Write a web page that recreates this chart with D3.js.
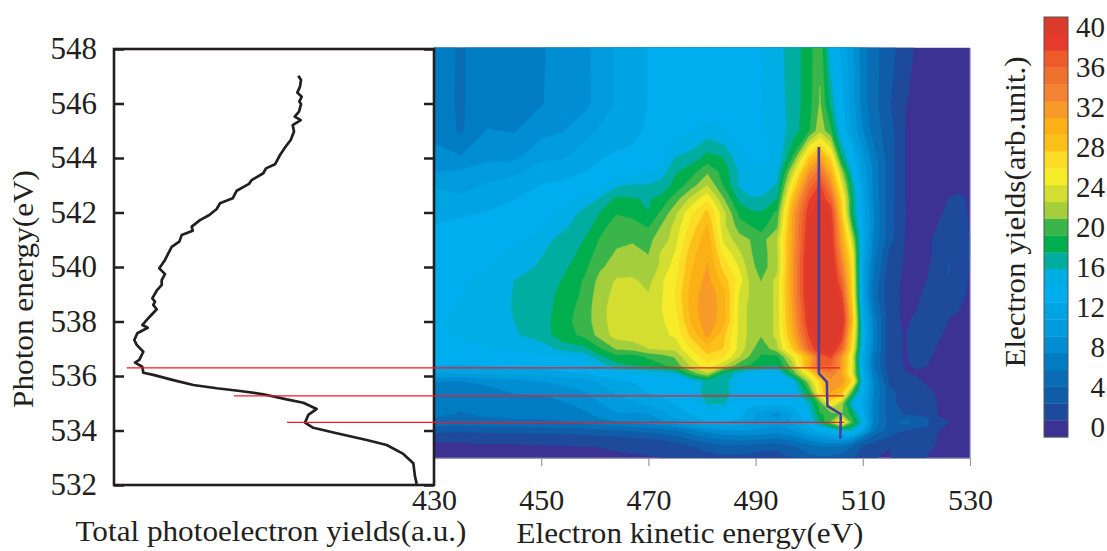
<!DOCTYPE html>
<html><head><meta charset="utf-8">
<script src="https://cdn.jsdelivr.net/npm/d3@7"></script>
<style>html,body{margin:0;padding:0;background:#fff}svg{display:block}text{font-family:"Liberation Serif",serif;fill:#231f20}</style>
</head><body><svg id="c" width="1107" height="551"></svg>
<script>
const photonTicks=[532,534,536,538,540,542,544,546,548];
const kineticTicks=[430,450,470,490,510,530];
const colorbarTicks=[0,4,8,12,16,20,24,28,32,36,40];
const bandColors=["#3b3293","#1e4a9c","#0f5ca8","#0a6cb4","#007cc2","#008dd2","#009bdc","#00a4e2","#00aeef","#00aee6","#00ada0","#00ae4d","#39b54a","#a4ce3c","#d4de30","#f7ec29","#fcdc26","#fdc01b","#fbb016","#f79a28","#f58233","#f0702d","#ee5a2a","#e63a2e","#dc3a2a"];
const bandLevels=[-1,0.68,2.36,4.04,5.72,7.4,9.08,10.76,12.44,14.12,15.8,17.48,19.16,20.84,22.52,24.2,25.88,27.56,29.24,30.92,32.6,34.28,35.96,37.64,39.32];
const gridKinetic=[430,435,440,445,450,454,458,461,464,467,470,472.5,475,478,481,484,487,489,491,494,497,500,502,504,506,508,510,512,515,518,520,522,524,526,528,530];
const gridPhoton=[548.04,546,545,544,543.5,543,542.5,542,541.5,541,540.5,540,539.5,539,538.5,538,537.5,537,536.7,536.4,536.1,535.8,535.4,535,534.6,534.3,534,533.7,533.4,533];
const gridYield=[
[6.2,5.6,6.3,6.6,7.3,7.8,8.6,9.8,11,11.4,12.5,12.7,12.8,13,13,13.2,13.2,13.5,14,15.3,16.5,18.5,20.5,14.5,12,9.5,6.5,4.5,3.2,1,.6,.3,.3,.2,.2,.2],
[6.1,5.6,6.3,6.7,7.3,8,8.6,9.7,11,11.3,12.5,12.7,12.9,13,13,13.2,13.2,13.5,14,15,16.5,18.5,21,17,13,10,6.5,4.7,2.5,.7,.5,.3,.3,.2,.2,.2],
[6.9,5.5,7.5,7.3,8.5,9,10,11,12,12,12.7,13,13.5,14,14.8,14.2,13.5,13.4,13.8,14.8,16.5,19,22,19.5,14,10.5,7.5,5,3,.6,.5,.3,.3,.2,.2,.2],
[8,7.6,8.8,8.7,10.5,10.6,11.8,12.4,12.6,12.8,13,13.8,15.9,16.5,18.2,17.5,14.5,14,14,14.2,19.5,28,31,27,18,13.5,9.5,6.5,3,.6,.5,.3,.3,.2,.2,.2],
[9,9.3,9.8,10.4,11.5,11.8,12.4,12.7,13,13.5,14,15,17.3,18.5,20.5,18.5,15.5,14.5,14.2,15,23,32,35,30,22,15,10,7,3,.6,.5,.3,.3,.2,.2,.2],
[10.5,10,11,11.6,12.5,12.8,13,13.3,15.5,15.9,15.9,16.5,18,20,22.5,19,15.5,14.7,14.5,16,26,35,38,33,24.5,17,11,7,3,.6,.5,.3,.3,.2,.4,.2],
[11.5,11.2,12,12.4,12.8,13.2,14.6,16,17.8,17.6,17.3,18,20,23,25.5,21,17,16,16,17.5,29,37.5,39.5,36,27,18,11.5,7,3,.6,.5,.4,.4,.7,.9,.5],
[12,12.2,12.5,12.7,13,14.5,16.3,17.5,19,18.6,17.5,19.5,22,25.5,28,23,18.5,17.8,17.5,19.5,31,39,40,39,28,18,12,7.5,3,.7,.5,.4,.5,.9,.9,.6],
[12.5,12.8,13,13.2,14,15.5,16.5,18.5,20,19.8,19,21,23,26.5,29.5,23,20,19.2,18.5,20.5,31.5,39.5,40.5,39.5,30,20,12.2,7.5,3,.6,.5,.4,.7,1.2,1,.6],
[13,13.1,13.2,13.6,15.3,16.2,17.5,19.3,20.5,20.7,20.5,21.5,23.5,27.5,30.5,23.8,21.5,20.8,20,22.5,31.5,40,41,40,31,23,12.5,7,3,.5,.5,.5,.9,1.3,1,.7],
[13.1,13.3,13.6,14.6,15.7,16.6,18,20,21,21.2,20.8,22.8,24.3,28.5,30.8,25.5,22.8,21,20,22,32,40.5,41.5,40.5,32.5,25,12,6.5,2,.5,.4,.5,.9,2,1.5,.7],
[13.2,13.6,14,15.2,16,17,18.7,20.6,21.5,21.7,21,23,25,29,31,27,24,21.5,20,22,32,41,42,41,34,26,11,6,1.5,.5,.4,.5,1.2,2.5,1.6,.6],
[13.4,14,14.5,15.8,16.3,17.6,19.3,21.4,22.7,22.8,22,24,25.5,29.5,31.5,28.5,25,22,20.8,23,32,41,42,41.5,36,26.5,11,5.5,1,.5,.4,.7,1.5,2.3,1,.6],
[13.5,14,14.8,15.9,16.5,18,19.5,21.8,23,23,22.6,24,26,30,32,30,23.8,22.3,21,23,32,41,42,42,38,27,11,5,1,.5,.5,.9,2,2,.8,.6],
[13.8,14.2,15,15.9,16.6,18.3,19.8,22,23.3,23.4,23,24.2,25.5,30,32.2,30,23.5,22,21,23,31.5,40,42,42,40,28,12,6,1,.5,.6,1.5,2,1,.7,.5],
[14,14.4,15,15.8,16.7,18.5,20,21.8,23.5,23.4,23,24,25,29.5,32,30,23.5,22,21,23,31,39.5,42,42,41,29,13,7,1,.5,1,2,1.6,.6,.6,.5],
[14,14.2,15,15.6,16.5,18.5,19.5,21.5,23.2,23.4,23,23.8,24.5,28,31.5,28,23.5,22,21,23,30,38,41,41,39,27,14,7,1,.6,1.5,1.5,.8,.5,.5,.4],
[13.5,13.7,14,14.6,15,16.3,17,19,21,21.5,22.5,22.8,23,26,28.5,27.5,23.5,21.5,19.5,22,28,36,40,40.5,36,26,13,7,1,.6,1.2,1,.6,.5,.5,.4],
[13,13,13,13.2,13.5,14,14.5,17,18.5,18,19.5,20,21,24.5,27,26,22.5,20.5,19,18.5,24,30,36,38,32,24,12,6,1,.6,1,.8,.5,.5,.5,.4],
[12.5,12.4,12.5,12.8,13,13.5,14,14.8,17,17.6,18,19,20,23,25.5,23,20,19,18,17.5,22,31,36.5,36,32,24.5,12,6,1,.6,.8,.7,.5,.5,.5,.4],
[10.5,10.8,11,11.2,11.5,12,12.5,13.2,14,14.2,14.5,14.8,15.5,20,22.5,17.5,15,14,13.5,13.8,20,26,32,34,31,24,13,6.5,1.5,.7,.6,.5,.5,.4,.4,.4],
[7.5,7.3,8,8.3,9,9.5,10,11,12,12.5,13,13,13,14,16.5,16.5,14,13.3,13,13,14.5,22,27,32,32,27,14,7.5,2,1,.8,.6,.5,.4,.4,.4],
[6.2,6,6.5,7.6,7.6,8.5,9,10,11,11.5,12.5,12.7,13,14,17,17,14,13.3,13,13,13.5,19,26,31,29,20,13,7.5,3,1.2,1,.8,.6,.4,.4,.4],
[6.3,6.1,6.3,6.5,6.6,7.2,8,9,10,10.5,11.5,12,12.5,13.5,16,16,13.5,13,13,13,13.2,16,20,26,22,15,12,7,3,1.5,1.6,1.5,.6,.5,.4,.4],
[6,5.6,6,6.3,6.2,6.4,7,8,9,8.8,9,10,12,12.5,13,13,13,11.5,10,8.5,11,14.5,19,19.5,21,18.5,13,7,3,2.2,2.2,2,.6,.5,.4,.4],
[5.2,5,5.2,5.3,5.4,5.6,6,6.7,7.2,7.8,8,8.8,9.5,11,12.5,12.5,12,11,10,9.5,11,13.5,17.5,21,27,20,15,7,3.5,4.7,3.3,2.8,1,.7,.5,.4],
[2.8,2.7,2.9,3,3.1,3.2,3.4,3.7,3.9,4.2,4.6,5,5.6,6.8,8,8.8,9,9,8.8,8.3,9,11.5,13,14,15.5,15.8,11.5,6,3.2,2.3,2,2,.7,.5,.4,.3],
[.9,.85,1,1,1.1,1.2,1.4,1.6,1.8,2,2.3,2.6,3,4.2,5.3,6,6.2,6.2,6,5.5,6.5,8,9,9.5,10,9,5,3,2,1.8,1.6,1.5,.6,.5,.4,.3],
[.45,.45,.5,.5,.55,.6,.65,.7,.8,.9,1,1.2,1.6,2.2,3,3.5,3.5,3.3,3,2.8,3.8,5,5.5,5.5,5,4,2.3,1.5,.7,1.5,1.6,1,.5,.4,.3,.3],
[.3,.3,.3,.35,.4,.4,.4,.45,.5,.55,.6,.65,.8,1.2,1.6,1.9,1.9,1.7,1.5,1.5,2.5,3.5,3.7,3.7,3.5,2.5,1.2,.7,.6,1.2,1.2,.6,.4,.3,.3,.3]
];
const totalPhoton=[547.02,546.86,546.62,546.40,546.25,546.07,545.98,545.70,545.52,545.39,545.21,544.97,544.66,544.42,544.11,543.77,543.62,543.44,543.19,543.05,542.80,542.52,542.34,542.13,541.91,541.72,541.48,541.33,541.17,540.93,540.74,540.50,540.26,539.95,539.74,539.52,539.34,539.13,538.85,538.73,538.61,538.45,538.12,537.87,537.77,537.57,537.32,537.14,536.89,536.59,536.49,536.34,536.12,536.04,535.85,535.67,535.55,535.45,535.33,535.14,535.02,534.79,534.57,534.29,534.10,533.90,533.65,533.47,533.14,532.80,532.31,532.04];
const totalYield=[184.3,187,186,183.3,187.7,185.3,187,185,180.7,186.7,178.7,180,176.7,171.7,166,161,152,149.3,137.7,135,122.7,118.7,106,102.7,95.3,86,77.7,78.7,67.7,65.3,57.7,54.3,51,45.3,51,47.7,47.7,42.7,38.3,41,39.3,42.7,34.3,28.3,33.7,23.3,20.3,22.7,29.3,25.3,21,28.3,29.3,39.3,59.3,79.3,102.7,126,149.3,172.7,189.3,202.7,194.3,191,199.3,222.7,252.7,272.7,289.3,299.3,301,302.7];
const peakKinetic=[501.8,501.8,503.3,503.4,505.9,505.8];
const peakPhoton=[544.4,536.1,535.78,534.9,534.6,533.7];
const markerPhoton=[536.3,535.27,534.3];
const markerStartYield=[12.7,120,173];
const markerEndKinetic=[505.8,506.5,506.5];

const svg=d3.select("#c");
const ink="#231f20";
const yP=d3.scaleLinear().domain([532,548]).range([485,49]);
const xT=d3.scaleLinear().domain([0,320]).range([114,434]);
const xK=d3.scaleLinear().domain([430,530]).range([434,970]);
const yC=d3.scaleLinear().domain([0,40]).range([427,27]);

// heat map
const nx=gridKinetic.length, ny=gridPhoton.length;
const iKe=d3.scaleLinear().domain(d3.range(nx)).range(gridKinetic).clamp(true);
const iPe=d3.scaleLinear().domain(d3.range(ny)).range(gridPhoton).clamp(true);
const contours=d3.contours().size([nx,ny]).smooth(true).thresholds(bandLevels)(gridYield.flat());
const path=d3.geoPath(d3.geoTransform({point(x,y){this.stream.point(xK(iKe(x-0.5)),yP(iPe(y-0.5)));}}));
svg.append("g").selectAll("path").data(contours).join("path")
  .attr("d",path).attr("fill",(d,i)=>bandColors[i]).attr("stroke",(d,i)=>bandColors[i]).attr("stroke-width",0.4);
svg.append("path").attr("d",`M${xK(530)},48V458`).attr("stroke","#8583c4").attr("fill","none");

// kinetic axis
const gK=svg.append("g").attr("transform","translate(0,458)")
  .call(d3.axisBottom(xK).tickValues(kineticTicks).tickSize(8).tickPadding(23).tickFormat(d3.format("d")));
gK.select(".domain").attr("stroke","#9a9ab8").attr("d",`M${xK(430)},0.5H${xK(530)}`);
gK.selectAll("line").attr("stroke","#9b9b9b").attr("stroke-width",1.2);
gK.selectAll("text").attr("font-size",30).attr("font-family","Liberation Serif").attr("fill",ink);

// left panel frame & axes
const gL=svg.append("g").attr("transform","translate(114,0)")
  .call(d3.axisLeft(yP).tickValues(photonTicks).tickSize(-10).tickPadding(17).tickFormat(d3.format("d")));
gL.select(".domain").remove();
gL.selectAll("line").attr("stroke",ink).attr("stroke-width",2.5);
gL.selectAll("text").attr("font-size",31).attr("font-family","Liberation Serif").attr("fill",ink);
const gR=svg.append("g").attr("transform","translate(434,0)")
  .call(d3.axisRight(yP).tickValues(photonTicks).tickSize(-10).tickFormat(""));
gR.select(".domain").remove();
gR.selectAll("line").attr("stroke",ink).attr("stroke-width",2.5);
svg.append("rect").attr("x",114).attr("y",49).attr("width",320).attr("height",436).attr("fill","none").attr("stroke",ink).attr("stroke-width",2.6);

// total yield curve
svg.append("path").datum(d3.zip(totalYield,totalPhoton))
  .attr("d",d3.line().x(d=>xT(d[0])).y(d=>yP(d[1])))
  .attr("fill","none").attr("stroke",ink).attr("stroke-width",2.7).attr("stroke-linejoin","round");

// markers
svg.append("g").selectAll("line").data(markerPhoton).join("line")
  .attr("x1",(d,i)=>xT(markerStartYield[i])).attr("x2",(d,i)=>xK(markerEndKinetic[i]))
  .attr("y1",d=>yP(d)).attr("y2",d=>yP(d)).attr("stroke","#ed1c24").attr("stroke-width",1.4);

// peak trace
svg.append("path").datum(d3.zip(peakKinetic,peakPhoton))
  .attr("d",d3.line().x(d=>xK(d[0])).y(d=>yP(d[1])))
  .attr("fill","none").attr("stroke","#4b3f9c").attr("stroke-width",2.6);

// colorbar
const cbX=1044,cbW=24;
svg.append("g").selectAll("rect").data(bandLevels).join("rect")
  .attr("x",cbX).attr("width",cbW)
  .attr("y",d=>yC(d+1.68)).attr("height",d=>yC(d)-yC(d+1.68)+0.3)
  .attr("fill",(d,i)=>bandColors[i]);
svg.append("rect").attr("x",cbX).attr("width",cbW).attr("y",yC(41)).attr("height",yC(-1)-yC(41))
  .attr("fill","none").attr("stroke","#555").attr("stroke-width",1);
const gC=svg.append("g").attr("transform","translate(1105,0)")
  .call(d3.axisRight(yC).tickValues(colorbarTicks).tickSize(0).tickPadding(0));
gC.select(".domain").remove();
gC.selectAll("text").attr("text-anchor","end").attr("font-size",29).attr("font-family","Liberation Serif").attr("fill",ink);

// titles
const label=(t,x,y,rot,len,fs)=>{const s=svg.append("text").text(t).attr("font-size",fs).attr("text-anchor","middle")
  .attr("transform",`translate(${x},${y})${rot?" rotate(-90)":""}`);
  s.attr("textLength",len).attr("lengthAdjust","spacingAndGlyphs");};
label("Photon energy(eV)",33,289,true,238,30);
label("Total photoelectron yields(a.u.)",271,541,false,391,30);
label("Electron kinetic energy(eV)",690,543,false,347,29);
label("Electron yields(arb.unit.)",1025,212,true,311,30);
</script></body></html>
